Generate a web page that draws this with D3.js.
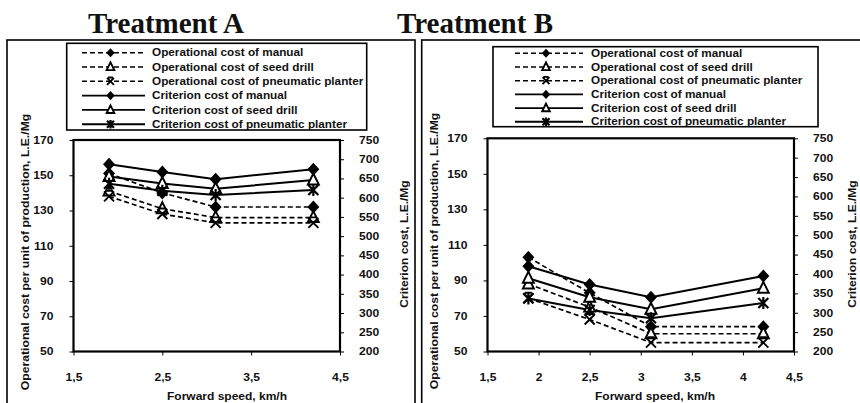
<!DOCTYPE html>
<html><head><meta charset="utf-8">
<script src="https://cdn.jsdelivr.net/npm/d3@7"></script>
<style>
body{margin:0;background:#fff;}
svg{display:block;}
text{font-family:"Liberation Sans",Arial,sans-serif;font-weight:bold;fill:#111;}
.title{font-family:"Liberation Serif","Times New Roman",serif;font-size:29px;font-weight:bold;}
</style></head>
<body>
<svg id="c" width="860" height="403"></svg>
<script>
// ---------- data ----------
const speeds = [1.9, 2.5, 3.1, 4.2];
const titles = ["Treatment A", "Treatment B"];
const seriesNames = [
  "Operational cost of manual",
  "Operational cost of seed drill",
  "Operational cost of pneumatic planter",
  "Criterion cost of manual",
  "Criterion cost of seed drill",
  "Criterion cost of pneumatic planter"
];
// Treatment A
const aOpManual = [151, 140, 132, 132];
const aOpSeed   = [141, 131, 126, 126];
const aOpPneu   = [138, 128, 123, 123];
const aCrManual = [687, 667, 648, 674];
const aCrSeed   = [655, 637, 623, 646];
const aCrPneu   = [636, 618, 607, 620];
// Treatment B
const bOpManual = [103, 83, 64, 64];
const bOpSeed   = [88, 75, 60, 60];
const bOpPneu   = [80, 68, 55, 55];
const bCrManual = [420, 373, 340, 395];
const bCrSeed   = [389, 340, 309, 363];
const bCrPneu   = [337, 307, 286, 325];
// axes
const opTicks = [50, 70, 90, 110, 130, 150, 170];
const crTicks = [200, 250, 300, 350, 400, 450, 500, 550, 600, 650, 700, 750];
const aSpeedTicks = [1.5, 2.5, 3.5, 4.5];
const bSpeedTicks = [1.5, 2, 2.5, 3, 3.5, 4, 4.5];
const xLabel = "Forward speed, km/h";
const yLeftLabel = "Operational cost per unit of production, L.E./Mg";
const yRightLabel = "Criterion cost, L.E./Mg";

// ---------- helpers ----------
const svg = d3.select("#c");
const fmt = d => String(d).replace(".", ",");
function stretch(sel, k){
  sel.each(function(){
    const w = this.getComputedTextLength();
    d3.select(this).attr("textLength", w * k).attr("lengthAdjust", "spacingAndGlyphs");
  });
}
const markerTypes = ["diamond", "triangle", "x", "diamond", "triangle", "star"];
const dashed = [true, true, true, false, false, false];

function drawMarker(g, type, x, y, s){
  if (type === "diamond") {
    g.append("path").attr("d", `M${x},${y-6.5*s}L${x+6*s},${y}L${x},${y+6.5*s}L${x-6*s},${y}Z`).attr("fill", "#000");
  } else if (type === "triangle") {
    g.append("path").attr("d", `M${x},${y-6.5*s}L${x+5.5*s},${y+4.5*s}L${x-5.5*s},${y+4.5*s}Z`)
      .attr("fill", "#fff").attr("stroke", "#000").attr("stroke-width", 1.9);
  } else if (type === "x") {
    g.append("path").attr("d", `M${x-5*s},${y-5*s}L${x+5*s},${y+5*s}M${x+5*s},${y-5*s}L${x-5*s},${y+5*s}M${x-3.5*s},${y-5.5*s}L${x+3.5*s},${y-5.5*s}`)
      .attr("stroke", "#000").attr("stroke-width", 1.9).attr("fill", "none");
  } else {
    g.append("path").attr("d", `M${x-5*s},${y-5*s}L${x+5*s},${y+5*s}M${x+5*s},${y-5*s}L${x-5*s},${y+5*s}M${x},${y-6*s}L${x},${y+6*s}`)
      .attr("stroke", "#000").attr("stroke-width", 2.2).attr("fill", "none");
  }
}

function panel(cfg){
  const g = svg.append("g");
  g.append("rect").attr("x", cfg.box[0]).attr("y", cfg.box[1]).attr("width", cfg.box[2]).attr("height", cfg.box[3])
    .attr("fill", "none").attr("stroke", "#000").attr("stroke-width", 1.6);
  g.append("text").attr("class", "title").attr("x", cfg.titleX).attr("y", 33).text(cfg.title);

  const x = d3.scaleLinear().domain([1.5, 4.5]).range([cfg.plot[0], cfg.plot[2]]);
  const yL = d3.scaleLinear().domain([50, 170]).range([cfg.plot[3], cfg.plot[1]]);
  const yR = d3.scaleLinear().domain([200, 750]).range([cfg.plot[3], cfg.plot[1]]);

  const ax = g.append("g").attr("transform", `translate(0,${cfg.plot[3]})`)
    .call(d3.axisBottom(x).tickValues(cfg.xTicks).tickFormat(fmt).tickSize(4).tickPadding(18));
  const ayl = g.append("g").attr("transform", `translate(${cfg.plot[0]},0)`)
    .call(d3.axisLeft(yL).tickValues(opTicks).tickSize(4).tickPadding(16));
  const ayr = g.append("g").attr("transform", `translate(${cfg.plot[2]},0)`)
    .call(d3.axisRight(yR).tickValues(crTicks).tickSize(4).tickPadding(15));
  [ax, ayl, ayr].forEach(a => {
    a.select(".domain").remove();
    a.selectAll("line").attr("stroke", "#000").attr("stroke-width", 1);
    a.selectAll("text").attr("font-size", 10.5).attr("font-family", "Liberation Sans, Arial, sans-serif")
      .attr("font-weight", "bold").attr("fill", "#111").call(stretch, 1.15);
  });
  g.append("rect").attr("x", cfg.plot[0]).attr("y", cfg.plot[1])
    .attr("width", cfg.plot[2] - cfg.plot[0]).attr("height", cfg.plot[3] - cfg.plot[1])
    .attr("fill", "none").attr("stroke", "#000").attr("stroke-width", 2.2);

  g.append("text").attr("x", cfg.xLabelX).attr("y", 400).attr("text-anchor", "middle")
    .attr("font-size", 10).text(xLabel).call(stretch, 1.2);
  g.append("text").attr("transform", `translate(${cfg.yLeftX},${cfg.yLeftY}) rotate(-90)`)
    .attr("text-anchor", "middle").attr("dy", "0.35em").attr("font-size", 10).text(yLeftLabel).call(stretch, 1.22);
  g.append("text").attr("transform", `translate(${cfg.yRightX},244) rotate(-90)`)
    .attr("text-anchor", "middle").attr("dy", "0.35em").attr("font-size", 10).text(yRightLabel).call(stretch, 1.2);

  const series = cfg.series;
  series.forEach((vals, i) => {
    const y = i < 3 ? yL : yR;
    const line = d3.line().x((d, j) => x(speeds[j])).y(d => y(d));
    g.append("path").attr("d", line(vals)).attr("fill", "none").attr("stroke", "#000")
      .attr("stroke-width", dashed[i] ? 1.7 : 2).attr("stroke-dasharray", dashed[i] ? "5,3" : null);
  });
  series.forEach((vals, i) => {
    const y = i < 3 ? yL : yR;
    const mg = g.append("g");
    vals.forEach((v, j) => drawMarker(mg, markerTypes[i], x(speeds[j]), y(v), 1));
  });

  const lg = g.append("g");
  lg.append("rect").attr("x", cfg.leg[0]).attr("y", cfg.leg[1]).attr("width", cfg.leg[2]).attr("height", cfg.leg[3])
    .attr("fill", "#fff").attr("stroke", "#000").attr("stroke-width", 1.6);
  seriesNames.forEach((name, i) => {
    const yy = cfg.legY0 + i * cfg.legStep;
    lg.append("line").attr("x1", cfg.legLine[0]).attr("x2", cfg.legLine[1]).attr("y1", yy).attr("y2", yy)
      .attr("stroke", "#000").attr("stroke-width", dashed[i] ? 1.6 : 1.9)
      .attr("stroke-dasharray", dashed[i] ? "5,3" : null);
    drawMarker(lg, markerTypes[i], (cfg.legLine[0] + cfg.legLine[1]) / 2 - 3, yy, 0.7);
    lg.append("text").attr("x", cfg.legText).attr("y", yy).attr("dy", "0.35em")
      .attr("font-size", 10.3).text(name).call(stretch, 1.14);
  });
}

panel({
  title: titles[0], titleX: 88,
  box: [7, 40, 408, 380],
  plot: [73.5, 140, 340, 351.5],
  xTicks: aSpeedTicks,
  xLabelX: 227, yLeftX: 25, yLeftY: 252, yRightX: 404,
  leg: [66.7, 43.3, 300, 86.7], legY0: 52.7, legStep: 14.3, legLine: [82, 145], legText: 152,
  series: [aOpManual, aOpSeed, aOpPneu, aCrManual, aCrSeed, aCrPneu]
});
panel({
  title: titles[1], titleX: 397,
  box: [421.7, 40, 460, 380],
  plot: [487.5, 138.3, 794, 351.5],
  xTicks: bSpeedTicks,
  xLabelX: 655, yLeftX: 434, yLeftY: 251, yRightX: 852,
  leg: [493, 46.7, 325, 80], legY0: 53.3, legStep: 13.7, legLine: [515, 583], legText: 591,
  series: [bOpManual, bOpSeed, bOpPneu, bCrManual, bCrSeed, bCrPneu]
});
</script>
</body></html>
